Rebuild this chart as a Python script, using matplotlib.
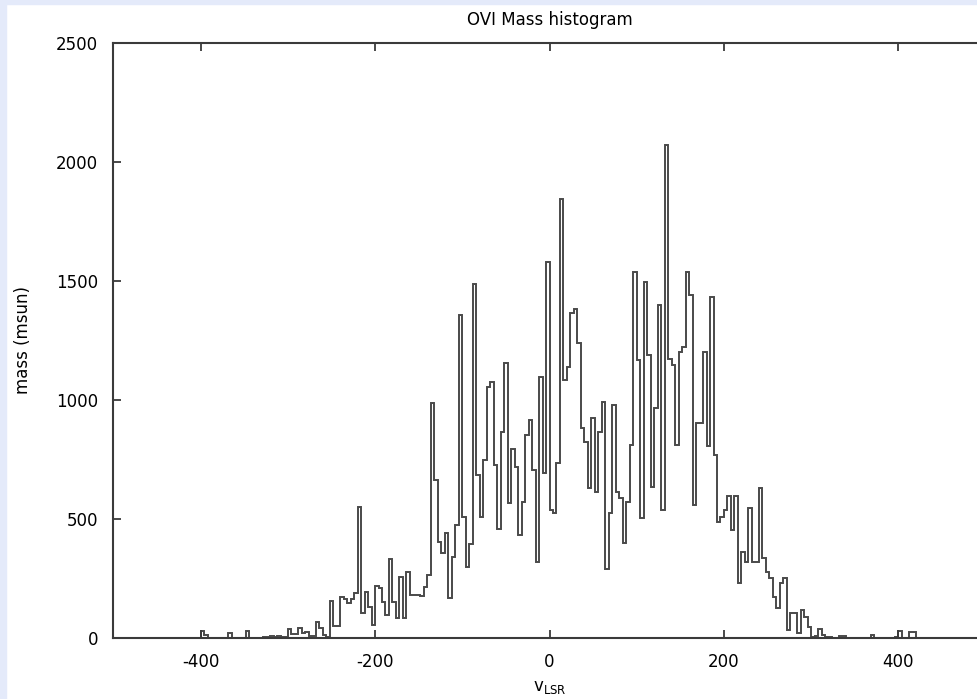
import matplotlib
matplotlib.use("Agg")
import matplotlib.pyplot as plt
from matplotlib.patches import Rectangle
import numpy as np

# ---- data: mass per 4 km/s velocity bin, bins start at -500 ----
bin_start = -500
bin_width = 4
mass = [
    0, 0, 0, 0, 0, 0, 0, 0, 0, 0,                      # -500
    0, 0, 0, 0, 0, 0, 0, 0, 0, 0,                      # -460
    0, 0, 0, 0, 0, 30, 10, 0, 0, 0,                    # -420
    0, 0, 0, 18, 0, 0, 0, 0, 28, 0,                    # -380
    0, 0, 0, 3, 5, 8, 5, 8, 5, 5,                      # -340
    38, 15, 15, 40, 20, 22, 8, 8, 65, 40,              # -300
    12, 5, 156, 49, 49, 170, 163, 147, 163, 187,       # -260
    551, 103, 194, 131, 53, 219, 208, 151, 97, 331,    # -220
    151, 82, 257, 82, 278, 180, 180, 180, 175, 212,    # -180
    264, 986, 663, 404, 355, 440, 166, 341, 474, 1357, # -140
    509, 298, 396, 1487, 684, 509, 747, 1055, 1076, 726,  # -100
    459, 867, 1154, 565, 792, 717, 432, 572, 853, 916,    # -60
    705, 320, 1098, 691, 1582, 537, 523, 733, 1844, 1084, # -20
    1137, 1367, 1381, 1241, 880, 824, 628, 923, 614, 866, # 20
    993, 288, 523, 979, 614, 586, 397, 572, 810, 1540,    # 60
    1168, 502, 1498, 1188, 635, 965, 1399, 537, 2072, 1172,  # 100
    1148, 810, 1203, 1224, 1540, 1442, 557, 901, 902, 1203,  # 140
    805, 1434, 768, 488, 509, 537, 594, 453, 594, 228,    # 180
    362, 320, 544, 320, 320, 628, 334, 277, 250, 173,     # 220
    124, 228, 250, 32, 102, 102, 18, 116, 88, 46,         # 260
    4, 6, 38, 10, 4, 2, 0, 0, 8, 8,                       # 300
    0, 0, 0, 0, 0, 0, 0, 10, 0, 0,                        # 340
    0, 0, 0, 0, 5, 30, 0, 0, 25, 25,                      # 380
    0, 0, 0, 0, 0, 0, 0, 0, 0, 0,                         # 420
    0, 0, 0, 0, 0, 0, 0, 0, 0, 0,                         # 460
]
x_ticks = [-400, -200, 0, 200, 400]
y_ticks = [0, 500, 1000, 1500, 2000, 2500]
title = "OVI Mass histogram"
xlabel = r"$\mathrm{v}_{\mathrm{LSR}}$"
ylabel = "mass (msun)"

edges = bin_start + bin_width * np.arange(len(mass) + 1)

W, H = 978, 699
fig = plt.figure(figsize=(W / 100, H / 100), dpi=100)
fig.patch.set_facecolor("white")
plt.rcParams["font.family"] = ["DejaVu Sans"]
plt.rcParams["mathtext.fontset"] = "dejavusans"

# light blue page border (left and top)
fig.patches.append(Rectangle((0, 0), 6 / W, 1, transform=fig.transFigure,
                             color="#e4eafa", zorder=0))
fig.patches.append(Rectangle((0, 1 - 3.5 / H), 1, 3.5 / H, transform=fig.transFigure,
                             color="#e4eafa", zorder=0))

left = 113.3 / W
right = 985.7 / W
bottom = (H - 637.7) / H
top = (H - 43.3) / H
ax = fig.add_axes([left, bottom, right - left, top - bottom])

ax.stairs(mass, edges, color="#4a4a4a", linewidth=1.4, baseline=0)

ax.set_xlim(-500, 500)
ax.set_ylim(0, 2500)
ax.set_xticks(x_ticks)
ax.set_yticks(y_ticks)
ax.set_xticklabels([str(v) for v in x_ticks])
ax.set_yticklabels([str(v) for v in y_ticks])

for s in ax.spines.values():
    s.set_linewidth(1.5)
    s.set_color("#3a3a3a")
ax.tick_params(direction="in", length=6, width=1.3, color="#3a3a3a",
               top=True, right=True, labelsize=12, pad=11)

ax.set_title(title, fontsize=12, pad=13)
ax.set_xlabel(xlabel, fontsize=12, labelpad=5)
ax.set_ylabel(ylabel, fontsize=12, labelpad=17)

fig.savefig("out.png", dpi=100)
